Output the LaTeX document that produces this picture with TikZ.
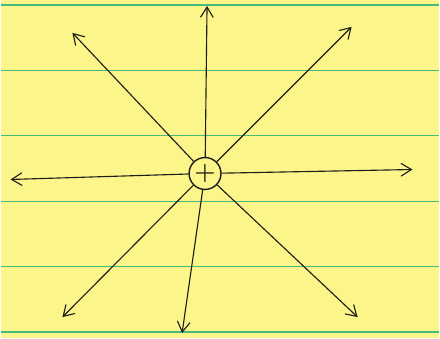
\documentclass[tikz,border=0pt]{standalone}
\usepackage{tikz}
\usepackage{bm}
\usetikzlibrary{arrows.meta,positioning}

\definecolor{paper}{RGB}{251,245,138}
\definecolor{ruleline}{RGB}{70,185,125}
\definecolor{pen}{RGB}{30,30,25}

\begin{document}
\begin{tikzpicture}[
    x=0.025cm, y=-0.025cm,
    >={Straight Barb[length=2.6mm,width=3.2mm]},
    hub/.style={
        draw=pen,
        circle,
        line width=1pt,
        minimum size=0.8cm,
        inner sep=0pt,
        font=\LARGE,
        text=pen
    },
    ray/.style={->, draw=pen, line width=0.8pt}
]

% paper and ruled lines
\fill[paper] (0,0) rectangle (440,339);
\foreach \ry in {5,71,136,202,267,333}
    \draw[ruleline, line width=0.9pt] (0,\ry) -- (440,\ry);

% centre
\node[hub] (hub) at (205,174) {$\bm{+}$};

% ray ends
\coordinate (n)  at (207,6);
\coordinate (ne) at (352,27);
\coordinate (e)  at (413,170);
\coordinate (se) at (358,318);
\coordinate (s)  at (182,334);
\coordinate (sw) at (62,318);
\coordinate (w)  at (10,180);
\coordinate (nw) at (72,33);

% rays
\foreach \dir in {n,ne,e,se,s,sw,w,nw}
    \draw[ray] (hub) -- (\dir);

\end{tikzpicture}
\end{document}
